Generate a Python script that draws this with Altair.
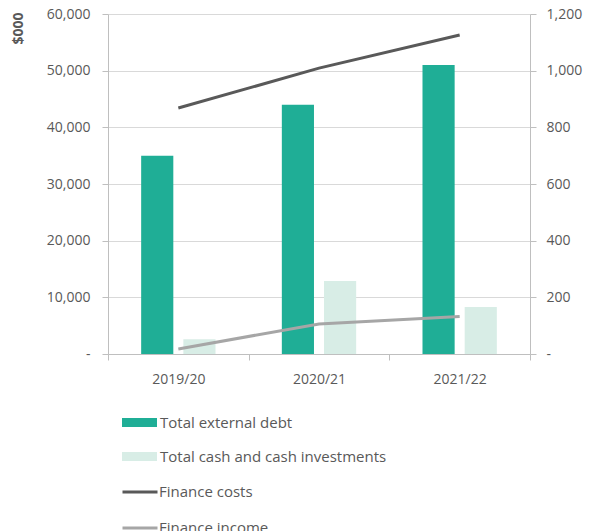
import altair as alt
import pandas as pd

years = ["2019/20", "2020/21", "2021/22"]
bar_series = ["Total external debt", "Total cash and cash investments"]
external_debt = [35000, 44000, 51000]
cash_investments = [2600, 12900, 8300]
line_series = ["Finance costs", "Finance income"]
finance_costs = [868, 1009, 1126]
finance_income = [18, 106, 132]
left_ticks = [0, 10000, 20000, 30000, 40000, 50000, 60000]
right_ticks = [0, 200, 400, 600, 800, 1000, 1200]

bars_df = pd.DataFrame({
    "year": years * 2,
    "series": [bar_series[0]] * 3 + [bar_series[1]] * 3,
    "value": external_debt + cash_investments,
})
lines_df = pd.DataFrame({
    "year": years * 2,
    "series2": [line_series[0]] * 3 + [line_series[1]] * 3,
    "value": finance_costs + finance_income,
})

FONT = "Open Sans"
GREY = "#595959"
AXIS_GREY = "#bfbfbf"
TEAL = "#1fae96"
LIGHT = "#d8ede6"
DARK_LINE = "#595959"
LIGHT_LINE = "#a6a6a6"

label_expr = "datum.value == 0 ? '-' : format(datum.value, ',')"

x = alt.X(
    "year:N", sort=years,
    scale=alt.Scale(paddingInner=0, paddingOuter=0),
    axis=alt.Axis(
        title=None, labelAngle=0, tickBand="extent", domainColor=AXIS_GREY,
        tickColor=AXIS_GREY, tickSize=6, labelPadding=12, labelFontSize=14,
        labelColor=GREY, labelFont=FONT, grid=False,
    ),
)

bars = alt.Chart(bars_df).mark_bar().encode(
    x=x,
    xOffset=alt.XOffset("series:N", sort=bar_series,
                        scale=alt.Scale(paddingInner=0.238, paddingOuter=0.786)),
    y=alt.Y(
        "value:Q", scale=alt.Scale(domain=[0, 60000], nice=False),
        axis=alt.Axis(
            values=left_ticks, labelExpr=label_expr, title="$000",
            titleAngle=270, titleX=-90, titleY=-2, titleAlign="right",
            titleBaseline="middle", titleFont=FONT, titleFontSize=14,
            titleFontWeight="bold", titleColor=GREY,
            labelFont=FONT, labelFontSize=14, labelColor=GREY, labelPadding=12,
            tickSize=6, tickColor=AXIS_GREY, domainColor=AXIS_GREY,
            gridColor="#d9d9d9", grid=True,
        ),
    ),
    color=alt.Color(
        "series:N", sort=bar_series,
        scale=alt.Scale(domain=bar_series, range=[TEAL, LIGHT]),
        legend=alt.Legend(
            title=None, orient="none", legendX=14, legendY=391,
            direction="vertical", symbolType="M-1,-0.257H1V0.257H-1Z",
            symbolSize=1225, symbolStrokeWidth=0, symbolOpacity=1,
            labelFont=FONT, labelFontSize=15, labelColor=GREY, labelOffset=3,
            labelLimit=0, rowPadding=8,
        ),
    ),
)

lines = alt.Chart(lines_df).mark_line(strokeWidth=3).encode(
    x=x,
    y=alt.Y(
        "value:Q", scale=alt.Scale(domain=[0, 1200], nice=False),
        axis=alt.Axis(
            orient="right", values=right_ticks, labelExpr=label_expr, title=None,
            labelFont=FONT, labelFontSize=14, labelColor=GREY, labelPadding=10,
            tickSize=6, tickColor=AXIS_GREY, domainColor=AXIS_GREY, grid=False,
        ),
    ),
    stroke=alt.Stroke(
        "series2:N", sort=line_series,
        scale=alt.Scale(domain=line_series, range=[DARK_LINE, LIGHT_LINE]),
        legend=alt.Legend(
            title=None, orient="none", legendX=13, legendY=459,
            direction="vertical", symbolType="stroke", symbolSize=1225,
            symbolStrokeWidth=3, labelFont=FONT, labelFontSize=15,
            labelColor=GREY, labelOffset=0, labelLimit=0, rowPadding=9,
        ),
    ),
)

chart = alt.layer(bars, lines).resolve_scale(
    y="independent", color="independent", stroke="independent"
).properties(
    width=422, height=340,
    autosize=alt.AutoSizeParams(type="none"),
    padding={"left": 108, "top": 14, "right": 62, "bottom": 177},
).configure_view(stroke=None)

chart.save("out.html", embed_options={"renderer": "svg", "actions": False})
